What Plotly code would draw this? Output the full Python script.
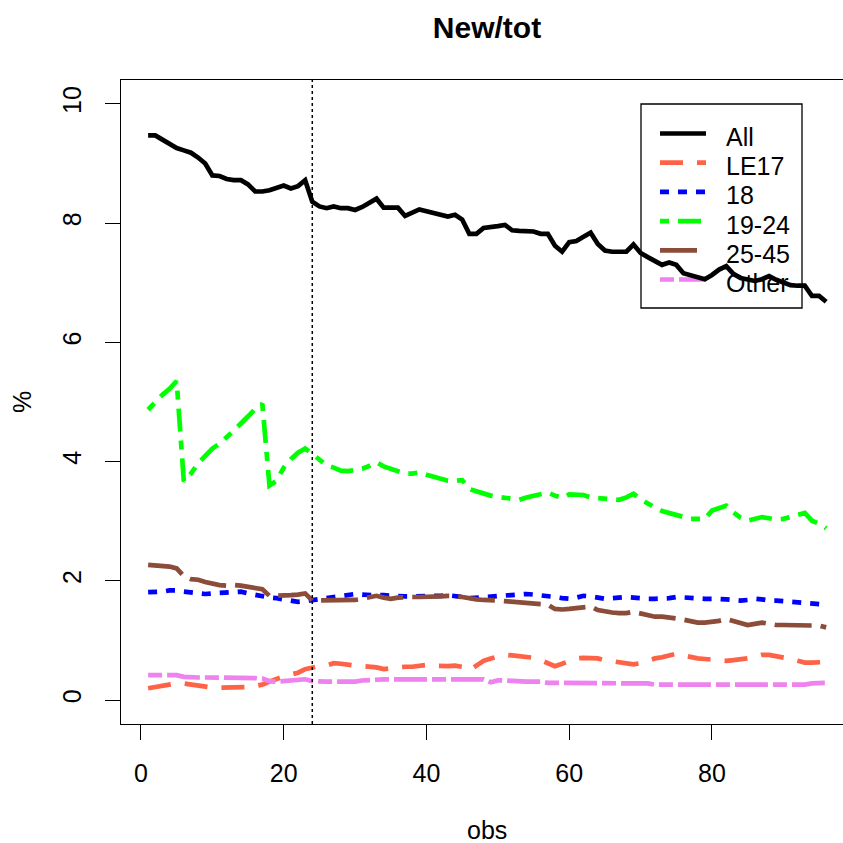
import plotly.graph_objects as go

obs = list(range(1, 97))

all_pct = [9.47, 9.47, 9.40, 9.33, 9.26, 9.22, 9.18, 9.10, 9.00, 8.80,
           8.79, 8.74, 8.72, 8.72, 8.65, 8.53, 8.53, 8.55, 8.60, 8.63,
           8.58, 8.62, 8.72, 8.36, 8.28, 8.25, 8.28, 8.25, 8.25, 8.22,
           8.27, 8.34, 8.41, 8.26, 8.26, 8.26, 8.12, 8.18, 8.23, 8.20,
           8.17, 8.14, 8.11, 8.14, 8.06, 7.82, 7.82, 7.92, 7.93, 7.95,
           7.97, 7.88, 7.87, 7.86, 7.86, 7.82, 7.82, 7.62, 7.52, 7.68,
           7.70, 7.77, 7.84, 7.65, 7.54, 7.52, 7.52, 7.52, 7.64, 7.50,
           7.43, 7.37, 7.30, 7.34, 7.30, 7.16, 7.12, 7.08, 7.06, 7.13,
           7.22, 7.28, 7.15, 7.08, 7.06, 7.03, 7.06, 7.11, 7.05, 7.00,
           6.96, 6.95, 6.95, 6.78, 6.78, 6.68]

le17 = [0.20, 0.22, 0.25, 0.27, 0.28, 0.28, 0.26, 0.23, 0.21, 0.21,
        0.21, 0.21, 0.21, 0.21, 0.22, 0.24, 0.26, 0.31, 0.36, 0.40,
        0.43, 0.46, 0.52, 0.55, 0.57, 0.58, 0.62, 0.61, 0.59, 0.58,
        0.57, 0.56, 0.55, 0.52, 0.54, 0.55, 0.56, 0.56, 0.57, 0.59,
        0.58, 0.57, 0.57, 0.58, 0.56, 0.50, 0.58, 0.66, 0.70, 0.74,
        0.76, 0.75, 0.74, 0.73, 0.71, 0.67, 0.62, 0.57, 0.61, 0.66,
        0.70, 0.71, 0.71, 0.70, 0.67, 0.65, 0.64, 0.62, 0.60, 0.62,
        0.67, 0.70, 0.72, 0.75, 0.78, 0.75, 0.72, 0.70, 0.69, 0.68,
        0.67, 0.66, 0.67, 0.68, 0.70, 0.73, 0.76, 0.76, 0.74, 0.72,
        0.69, 0.66, 0.63, 0.63, 0.63, 0.64]

age18 = [1.81, 1.81, 1.82, 1.84, 1.84, 1.82, 1.80, 1.78, 1.78, 1.79,
         1.80, 1.81, 1.81, 1.82, 1.79, 1.76, 1.73, 1.72, 1.71, 1.69,
         1.68, 1.65, 1.66, 1.68, 1.68, 1.70, 1.72, 1.74, 1.76, 1.78,
         1.77, 1.76, 1.76, 1.76, 1.75, 1.75, 1.74, 1.74, 1.74, 1.74,
         1.74, 1.75, 1.76, 1.75, 1.73, 1.71, 1.72, 1.73, 1.74, 1.75,
         1.76, 1.76, 1.77, 1.78, 1.77, 1.76, 1.75, 1.73, 1.71, 1.70,
         1.72, 1.75, 1.74, 1.72, 1.70, 1.71, 1.72, 1.73, 1.72, 1.70,
         1.70, 1.70, 1.70, 1.71, 1.73, 1.72, 1.71, 1.70, 1.70, 1.70,
         1.70, 1.69, 1.68, 1.67, 1.68, 1.70, 1.69, 1.67, 1.67, 1.66,
         1.65, 1.64, 1.63, 1.61, 1.60, 1.60]

age19_24 = [4.87, 5.00, 5.12, 5.22, 5.35, 3.67, 3.80, 3.97, 4.10, 4.22,
            4.30, 4.40, 4.52, 4.64, 4.76, 4.88, 4.97, 3.60, 3.68, 3.90,
            4.04, 4.15, 4.22, 4.12, 4.02, 3.94, 3.90, 3.85, 3.84, 3.86,
            3.88, 3.93, 3.99, 3.92, 3.88, 3.84, 3.80, 3.80, 3.82, 3.78,
            3.74, 3.70, 3.68, 3.68, 3.69, 3.54, 3.50, 3.47, 3.43, 3.41,
            3.39, 3.38, 3.36, 3.40, 3.43, 3.46, 3.48, 3.43, 3.39, 3.45,
            3.45, 3.44, 3.40, 3.39, 3.37, 3.36, 3.36, 3.40, 3.46, 3.37,
            3.29, 3.23, 3.17, 3.14, 3.10, 3.07, 3.04, 3.04, 3.04, 3.18,
            3.22, 3.26, 3.15, 3.06, 3.01, 3.04, 3.07, 3.05, 3.03, 3.04,
            3.08, 3.12, 3.14, 3.01, 2.96, 2.88]

age25_45 = [2.27, 2.26, 2.25, 2.24, 2.21, 2.08, 2.03, 2.02, 1.98, 1.95,
            1.93, 1.92, 1.93, 1.92, 1.90, 1.89, 1.86, 1.75, 1.75, 1.75,
            1.76, 1.77, 1.79, 1.67, 1.67, 1.67, 1.67, 1.67, 1.68, 1.68,
            1.70, 1.72, 1.75, 1.72, 1.70, 1.72, 1.73, 1.73, 1.73, 1.73,
            1.73, 1.74, 1.75, 1.75, 1.73, 1.70, 1.69, 1.68, 1.68, 1.67,
            1.66, 1.65, 1.64, 1.62, 1.61, 1.61, 1.60, 1.53, 1.52, 1.53,
            1.54, 1.56, 1.57, 1.51, 1.48, 1.47, 1.46, 1.46, 1.48, 1.45,
            1.42, 1.40, 1.40, 1.39, 1.37, 1.35, 1.33, 1.30, 1.30, 1.31,
            1.33, 1.36, 1.32, 1.29, 1.26, 1.28, 1.30, 1.28, 1.26, 1.26,
            1.26, 1.26, 1.26, 1.26, 1.25, 1.22]

other = [0.42, 0.42, 0.42, 0.43, 0.42, 0.39, 0.38, 0.38, 0.38, 0.38,
         0.38, 0.38, 0.38, 0.38, 0.38, 0.37, 0.36, 0.32, 0.31, 0.32,
         0.33, 0.34, 0.35, 0.32, 0.31, 0.31, 0.31, 0.31, 0.31, 0.31,
         0.33, 0.34, 0.35, 0.35, 0.35, 0.35, 0.35, 0.35, 0.35, 0.35,
         0.35, 0.35, 0.35, 0.35, 0.35, 0.35, 0.35, 0.35, 0.30, 0.33,
         0.33, 0.32, 0.31, 0.31, 0.31, 0.31, 0.29, 0.29, 0.29, 0.29,
         0.29, 0.29, 0.29, 0.29, 0.29, 0.29, 0.29, 0.29, 0.29, 0.29,
         0.28, 0.26, 0.26, 0.26, 0.26, 0.26, 0.26, 0.26, 0.26, 0.26,
         0.26, 0.26, 0.26, 0.26, 0.26, 0.26, 0.26, 0.26, 0.26, 0.26,
         0.26, 0.26, 0.26, 0.28, 0.29, 0.29]

series_names = ["All", "LE17", "18", "19-24", "25-45", "Other"]
series_values = [all_pct, le17, age18, age19_24, age25_45, other]
series_colors = ["#000000", "#FF6347", "#0000FF", "#00FF00", "#8B4C39", "#EE82EE"]
series_dashes = ["solid", "23px,14px", "9px,9px", "9px,9px,23px,9px",
                 "37px,9px", "14px,5px,33px,5px"]

x_ticks = [0, 20, 40, 60, 80]
y_ticks = [0, 2, 4, 6, 8, 10]
break_obs = 24

FONT = "Liberation Sans, Arial, Helvetica, sans-serif"

W, H = 843, 843
ml, mr, mt, mb = 121, 0, 80, 119
PW, PH = W - ml - mr, H - mt - mb
xlo, xhi = -2.8, 99.8
xmid = (xlo + xhi) / 2
px_per_x = (712 - 141) / 80.0
x_right = xlo + PW / px_per_x


def px_x(p):
    return (p - ml) / PW


def px_y(p):
    return (H - mb - p) / PH


fig = go.Figure()
for name, vals, col, dash in zip(series_names, series_values, series_colors, series_dashes):
    fig.add_trace(go.Scatter(x=obs, y=vals, mode="lines", name=name,
                             line=dict(color=col, width=4.7, dash=dash)))

fig.add_vline(x=break_obs, line=dict(color="black", width=1.5, dash="3px,3px"))

# legend box (R-style legend in the upper right)
leg_left, leg_right, leg_top, leg_bottom = 641, 802, 104, 308
row0, row_step = 133.5, 29.2
fig.add_shape(type="rect", xref="paper", yref="paper", layer="below",
              x0=px_x(leg_left), x1=px_x(leg_right), y0=px_y(leg_bottom), y1=px_y(leg_top),
              line=dict(color="black", width=1.3), fillcolor="rgba(0,0,0,0)")
for i, (name, col, dash) in enumerate(zip(series_names, series_colors, series_dashes)):
    yy = px_y(row0 + i * row_step)
    fig.add_shape(type="line", xref="paper", yref="paper", layer="below",
                  x0=px_x(660), x1=px_x(706), y0=yy, y1=yy,
                  line=dict(color=col, width=4.7, dash=dash))
    fig.add_annotation(text=name, xref="paper", yref="paper", x=px_x(724),
                       y=px_y(row0 + i * row_step + 3.5),
                       xanchor="left", yanchor="middle", showarrow=False,
                       font=dict(family=FONT, size=25, color="black"))

fig.update_layout(
    width=W, height=H,
    margin=dict(l=ml, r=mr, t=mt, b=mb, pad=0),
    paper_bgcolor="white", plot_bgcolor="white",
    font=dict(family=FONT, size=25, color="black"),
    showlegend=False,
    xaxis=dict(range=[xlo, x_right], tickvals=x_ticks, ticks="outside",
               ticklen=15, tickwidth=1.3, tickcolor="black",
               showline=True, linecolor="black", linewidth=1.3, mirror=True,
               showgrid=False, zeroline=False, ticklabelstandoff=12),
    yaxis=dict(range=[-0.4, 10.4], tickvals=y_ticks, ticks="outside",
               ticklen=15, tickwidth=1.3, tickcolor="black", tickangle=-90,
               showline=True, linecolor="black", linewidth=1.3, mirror=False,
               showgrid=False, zeroline=False, ticklabelstandoff=14),
    title=dict(text="<b>New/tot</b>", x=487 / W, xref="container", xanchor="center",
               y=1 - 27 / H, yref="container", yanchor="middle",
               font=dict(family=FONT, size=30, color="black")),
)

fig.add_annotation(text="obs", x=xmid, xref="x", y=px_y(830), yref="paper",
                   showarrow=False, xanchor="center", yanchor="middle",
                   font=dict(family=FONT, size=25, color="black"))
fig.add_annotation(text="%", x=px_x(22), xref="paper",
                   y=0.5, yref="paper", textangle=-90,
                   showarrow=False, xanchor="center", yanchor="middle",
                   font=dict(family=FONT, size=25, color="black"))

fig.write_html("out.html")
